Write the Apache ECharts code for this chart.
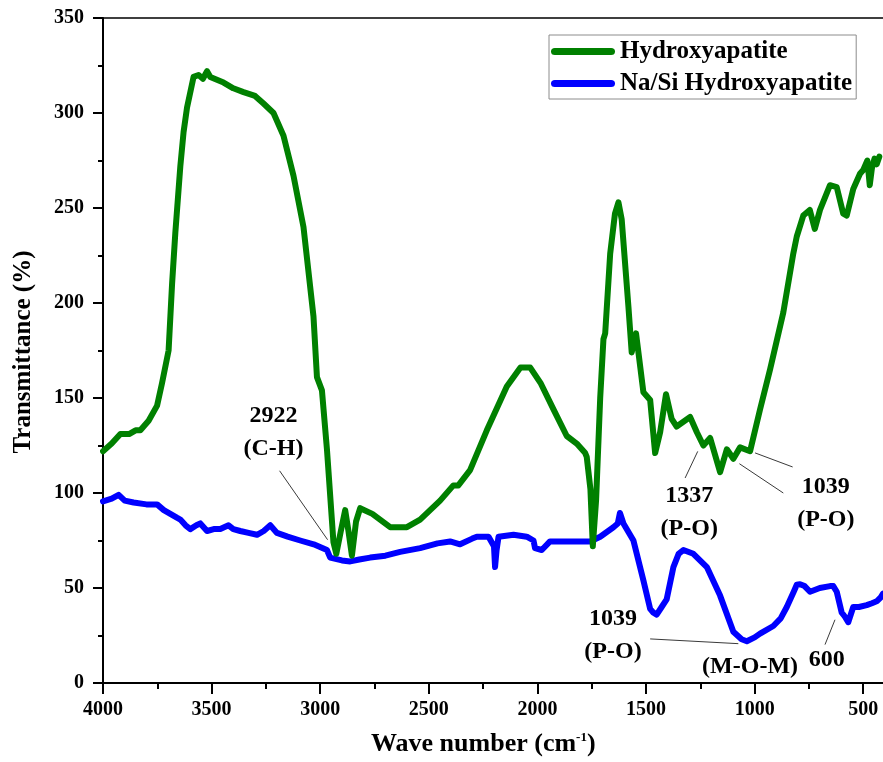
<!DOCTYPE html>
<html>
<head>
<meta charset="utf-8">
<title>FTIR spectra</title>
<script src="https://cdn.jsdelivr.net/npm/echarts@6/dist/echarts.min.js"></script>
<style>
  html, body { margin: 0; padding: 0; background: #fff; }
  #chart { width: 883px; height: 762px; }
</style>
</head>
<body>
<div id="chart"></div>
<script>
// Hydroxyapatite spectrum: wave number (cm-1) and transmittance (%)
const haWave = [4000, 3960, 3920, 3880, 3850, 3828, 3790, 3751, 3728, 3698, 3682, 3667, 3644, 3629, 3613,
  3583, 3560, 3540, 3521, 3506, 3445, 3400, 3353, 3300, 3261, 3215, 3169, 3123, 3077, 3031, 3015, 2992,
  2969, 2939, 2926, 2905, 2885, 2870, 2854, 2835, 2816, 2760, 2678, 2601, 2540, 2494, 2448, 2387, 2364,
  2310, 2233, 2141, 2078, 2033, 1986, 1926, 1865, 1819, 1780, 1773, 1756, 1745, 1730, 1711, 1696, 1688,
  1665, 1643, 1627, 1612, 1581, 1566, 1546, 1535, 1512, 1481, 1458, 1435, 1408, 1382, 1359, 1297, 1266,
  1236, 1205, 1159, 1128, 1098, 1067, 1021, 975, 929, 868, 822, 806, 776, 746, 723, 699, 653, 622, 592,
  576, 546, 515, 500, 481, 470, 460, 448, 438, 426];
const haT = [122, 126, 131, 131, 133, 133, 138, 146, 158, 175, 210, 237, 272, 290, 303,
  319, 320, 318, 322, 319, 316, 313, 311, 309, 305, 300, 288, 267, 240, 193, 161, 154,
  123, 74, 68, 80, 91, 80, 67, 85, 92, 89, 82, 82, 86, 91, 96, 104, 104,
  112, 133, 156, 166, 166, 158, 144, 130, 126, 121, 119, 102, 72, 96, 150, 181, 184,
  226, 247, 253, 244, 198, 174, 184, 174, 153, 149, 121, 132, 152, 139, 135, 140, 132,
  125, 129, 111, 123, 118, 124, 122, 144, 165, 195, 226, 235, 246, 249, 239, 249, 262, 261, 247,
  246, 260, 268, 270, 275, 262, 271, 276, 273, 277];

// Na/Si substituted hydroxyapatite spectrum
const nsWave = [4000, 3960, 3928, 3900, 3859, 3800, 3751, 3720, 3690, 3660, 3644, 3620, 3598, 3570, 3552,
  3521, 3490, 3460, 3422, 3400, 3368, 3330, 3291, 3260, 3230, 3199, 3150, 3092, 3030, 2969, 2954, 2900,
  2862, 2820, 2770, 2700, 2632, 2540, 2460, 2402, 2356, 2300, 2279, 2225, 2200, 2195, 2188, 2179, 2110,
  2049, 2018, 2011, 1980, 1942, 1865, 1757, 1711, 1650, 1630, 1620, 1604, 1558, 1512, 1481, 1466, 1451,
  1428, 1405, 1374, 1350, 1328, 1282, 1220, 1159, 1098, 1060, 1036, 1000, 975, 914, 880, 852, 820, 806,
  791, 770, 745, 700, 653, 638, 622, 599, 585, 569, 546, 520, 484, 460, 438, 420, 409];
const nsT = [95.6, 97, 99, 96, 95, 94, 94, 91, 89, 87, 86, 83, 81, 83, 84,
  80, 81, 81, 83, 81, 80, 79, 78, 80, 83, 79, 77, 75, 73, 70, 66, 64.5,
  64, 65, 66, 67, 69, 71, 73.5, 74.5, 73, 76, 77, 77, 72, 61, 70, 77, 78,
  77, 75, 71, 70, 74.5, 74.5, 74.5, 77, 82, 84, 89.5, 84, 75, 54, 39, 37, 36,
  40, 44, 61, 68, 70, 68, 61, 46, 27, 23, 22, 24, 26, 30, 34, 40, 48, 51.7,
  52, 51, 48, 50, 51, 51, 48, 37, 35, 32, 40, 40, 41, 42, 43, 45, 47];

// Axis range and ticks
const xRange = [409, 4000];
const xMajorTicks = [500, 1000, 1500, 2000, 2500, 3000, 3500, 4000];
const xMinorTicks = [750, 1250, 1750, 2250, 2750, 3250, 3750];
const yTickMin = 0, yTickMax = 350, yStep = 50;

// Band assignments (text anchor in data units)
const noteLabels = ['2922\n(C-H)', '1337\n(P-O)', '1039\n(P-O)', '1039\n(P-O)', '(M-O-M)', '600'];
const noteWave = [3215, 1301, 672, 1652, 1021, 668];
const noteT = [132, 89.9, 94.7, 25, 8.7, 12.3];
// Leader lines: [wave1, T1, wave2, T2]
const leaders = [
  [3187, 111.7, 2966, 75.4],
  [1320, 107.9, 1262, 121.9],
  [825, 113.7, 998, 121.1],
  [868, 100, 1070, 115.4],
  [1481, 23.2, 1075, 20.7],
  [676, 20.2, 630, 33.3]
];

const zip = (xs, ys) => xs.map((x, i) => [x, ys[i]]);
const SERIF = '"Liberation Serif", "Times New Roman", "DejaVu Serif", serif';
const AXIS_BLACK = { color: '#000', width: 2 };

const chart = echarts.init(document.getElementById('chart'), null, { renderer: 'canvas' });

chart.setOption({
  backgroundColor: '#ffffff',
  animation: false,
  grid: { left: 103, right: 0, top: 18, bottom: 79, containLabel: false },
  legend: {
    data: ['Hydroxyapatite', 'Na/Si Hydroxyapatite'],
    orient: 'vertical',
    left: 549,
    top: 35,
    padding: [4, 4, 3, 2],
    itemGap: 7,
    itemWidth: 64,
    itemHeight: 7,
    symbolKeepAspect: false,
    icon: 'path://M6,0 H94 A6,6 0 0 1 94,12 H6 A6,6 0 0 1 6,0 Z',
    borderColor: '#8c8c8c',
    borderWidth: 1,
    backgroundColor: '#fff',
    selectedMode: false,
    textStyle: { fontFamily: SERIF, fontWeight: 'bold', fontSize: 25, color: '#000' }
  },
  xAxis: [{
    type: 'value',
    inverse: true,
    min: xRange[0],
    max: xRange[1],
    position: 'bottom',
    axisLine: { show: true, onZero: false, lineStyle: AXIS_BLACK },
    axisTick: { show: true, inside: false, length: 11, customValues: xMajorTicks, lineStyle: AXIS_BLACK },
    splitLine: { show: false },
    axisLabel: {
      margin: 17, customValues: xMajorTicks, formatter: v => String(v),
      fontFamily: SERIF, fontWeight: 'bold', fontSize: 20, color: '#000'
    }
  }, {
    // minor ticks halfway between the labelled ones
    type: 'value',
    inverse: true,
    min: xRange[0],
    max: xRange[1],
    position: 'bottom',
    axisLine: { show: true, onZero: false, lineStyle: AXIS_BLACK },
    axisTick: { show: true, inside: false, length: 6, customValues: xMinorTicks, lineStyle: AXIS_BLACK },
    axisLabel: { show: false },
    splitLine: { show: false }
  }, {
    type: 'value',
    inverse: true,
    min: xRange[0],
    max: xRange[1],
    position: 'top',
    axisLine: { show: true, onZero: false, lineStyle: { color: '#000', width: 1.5 } },
    axisTick: { show: false },
    axisLabel: { show: false },
    splitLine: { show: false }
  }],
  yAxis: {
    type: 'value',
    min: yTickMin,
    max: yTickMax,
    interval: yStep,
    axisLine: { show: true, onZero: false, lineStyle: AXIS_BLACK },
    axisTick: { show: true, inside: false, length: 10, lineStyle: AXIS_BLACK },
    minorTick: { show: true, splitNumber: 2, length: 5, lineStyle: AXIS_BLACK },
    splitLine: { show: false },
    axisLabel: { margin: 19, fontFamily: SERIF, fontWeight: 'bold', fontSize: 20, color: '#000' }
  },
  graphic: [{
    type: 'text',
    left: 371,
    top: 731,
    style: {
      text: '{a|Wave number (cm}{s|-1}{a|)}',
      rich: {
        a: { fontFamily: SERIF, fontWeight: 'bold', fontSize: 26, fill: '#000', color: '#000' },
        s: { fontFamily: SERIF, fontWeight: 'bold', fontSize: 13, fill: '#000', color: '#000', verticalAlign: 'top', padding: [0, 0, 12, 0] }
      }
    }
  }, {
    type: 'text',
    x: 24,
    y: 352,
    rotation: Math.PI / 2,
    style: {
      text: 'Transmittance (%)',
      fontFamily: SERIF, fontWeight: 'bold', fontSize: 25, fill: '#000',
      align: 'center', verticalAlign: 'middle'
    }
  }],
  series: [{
    name: 'Na/Si Hydroxyapatite',
    type: 'line',
    data: zip(nsWave, nsT),
    symbol: 'none',
    color: '#0000ff',
    lineStyle: { color: '#0000ff', width: 6, join: 'round', cap: 'round' },
    z: 2
  }, {
    name: 'Hydroxyapatite',
    type: 'line',
    data: zip(haWave, haT),
    symbol: 'none',
    color: '#008000',
    lineStyle: { color: '#008000', width: 6, join: 'round', cap: 'round' },
    z: 3
  }, {
    name: 'leaders',
    type: 'custom',
    coordinateSystem: 'cartesian2d',
    silent: true,
    z: 4,
    data: leaders,
    encode: { x: [0, 2], y: [1, 3] },
    renderItem: function (params, api) {
      const a = api.coord([api.value(0), api.value(1)]);
      const b = api.coord([api.value(2), api.value(3)]);
      return {
        type: 'line',
        shape: { x1: a[0], y1: a[1], x2: b[0], y2: b[1] },
        style: { stroke: '#3a3a3a', lineWidth: 1 }
      };
    }
  }, {
    name: 'notes',
    type: 'custom',
    coordinateSystem: 'cartesian2d',
    silent: true,
    z: 5,
    data: noteLabels.map((t, i) => [noteWave[i], noteT[i], i]),
    encode: { x: 0, y: 1 },
    renderItem: function (params, api) {
      const p = api.coord([api.value(0), api.value(1)]);
      return {
        type: 'text',
        x: p[0],
        y: p[1],
        style: {
          text: noteLabels[api.value(2)],
          fontFamily: SERIF, fontWeight: 'bold', fontSize: 24, lineHeight: 33,
          fill: '#000', align: 'center', verticalAlign: 'middle'
        }
      };
    }
  }]
});
</script>
</body>
</html>
